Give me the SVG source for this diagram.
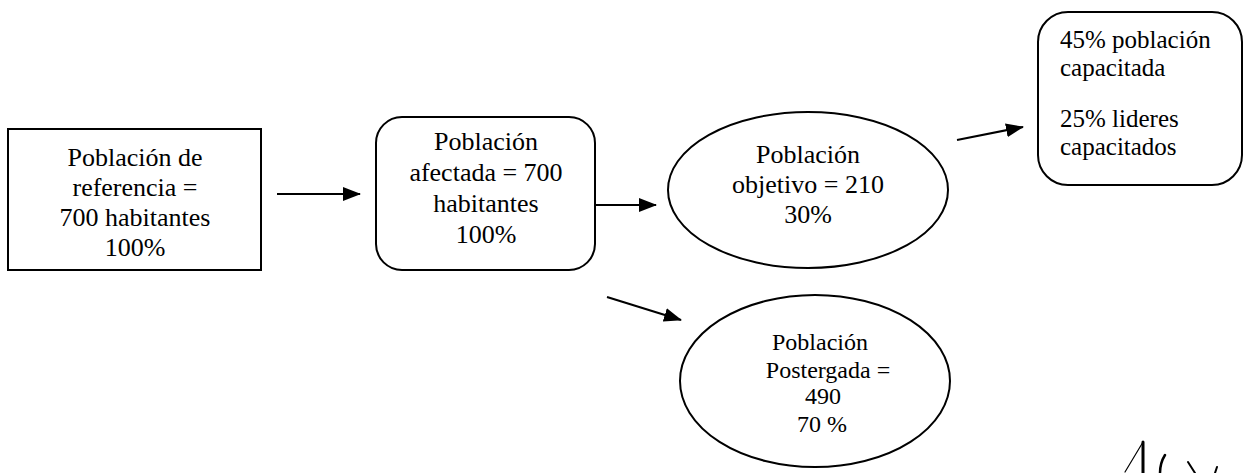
<svg xmlns="http://www.w3.org/2000/svg" width="1244" height="473" viewBox="0 0 1244 473">
<style>
.shape{fill:#fff;stroke:#000;stroke-width:2}
.t{fill:#000;text-anchor:middle}
.conn{stroke:#000;stroke-width:2.2;fill:none}
.sig{stroke:#000;fill:none;stroke-linecap:round}
</style>
<defs>
<marker id="ah" markerUnits="userSpaceOnUse" markerWidth="18" markerHeight="14" refX="17" refY="7" orient="auto">
<path d="M0,0 L18,7 L0,14 Z" fill="#000"/>
</marker>
</defs>
<rect width="1244" height="473" fill="#fff"/>
<g id="connectors">
<line class="conn" x1="277" y1="194" x2="360" y2="194" marker-end="url(#ah)"/>
<line class="conn" x1="595" y1="205" x2="656" y2="205" marker-end="url(#ah)"/>
<line class="conn" x1="957" y1="140" x2="1023" y2="127" marker-end="url(#ah)"/>
<line class="conn" x1="607" y1="297" x2="681" y2="320" marker-end="url(#ah)"/>
</g>
<g font-family="'Liberation Serif', 'DejaVu Serif', serif">
<g id="n-referencia">
<rect class="shape" x="8" y="129" width="253" height="141"/>
<text class="t" font-family="'Liberation Serif', serif" font-size="26"><tspan x="135" y="166">Población de</tspan><tspan x="135" y="196">referencia =</tspan><tspan x="135" y="226">700 habitantes</tspan><tspan x="135" y="256">100%</tspan></text>
</g>
<g id="n-afectada">
<rect class="shape" x="376" y="117" width="219" height="153" rx="26" ry="26"/>
<text class="t" font-family="'Liberation Serif', serif" font-size="26"><tspan x="486" y="150">Población</tspan><tspan x="486" y="181">afectada = 700</tspan><tspan x="486" y="212">habitantes</tspan><tspan x="486" y="243">100%</tspan></text>
</g>
<g id="n-objetivo">
<ellipse class="shape" cx="808" cy="190" rx="140" ry="78"/>
<text class="t" font-family="'Liberation Serif', serif" font-size="26"><tspan x="808" y="163">Población</tspan><tspan x="808" y="193">objetivo = 210</tspan><tspan x="808" y="223">30%</tspan></text>
</g>
<g id="n-capacitada">
<rect class="shape" x="1038" y="12" width="204" height="173" rx="30" ry="30"/>
<text font-family="'Liberation Serif', serif" font-size="25" fill="#000"><tspan x="1060" y="48">45% población</tspan><tspan x="1060" y="76">capacitada</tspan><tspan x="1060" y="127">25% lideres</tspan><tspan x="1060" y="155">capacitados</tspan></text>
</g>
<g id="n-postergada">
<ellipse class="shape" cx="815" cy="381" rx="135" ry="86"/>
<text class="t" font-family="'Liberation Serif', serif" font-size="24"><tspan x="820" y="350">Población</tspan><tspan x="828" y="378">Postergada  =</tspan><tspan x="823" y="404">490</tspan><tspan x="822" y="432">70 %</tspan></text>
</g>
</g>
<g id="signature">
<path class="sig" stroke-width="1.2" d="M1125,472 L1143,442"/>
<path class="sig" stroke-width="3" d="M1143,442 L1143,473"/>
<path class="sig" stroke-width="2.5" d="M1165,455 Q1160,463 1160,473"/>
<path class="sig" stroke-width="2" d="M1188,462 L1195,473"/>
<path class="sig" stroke-width="2" d="M1217,467 L1215,473"/>
</g>
</svg>
